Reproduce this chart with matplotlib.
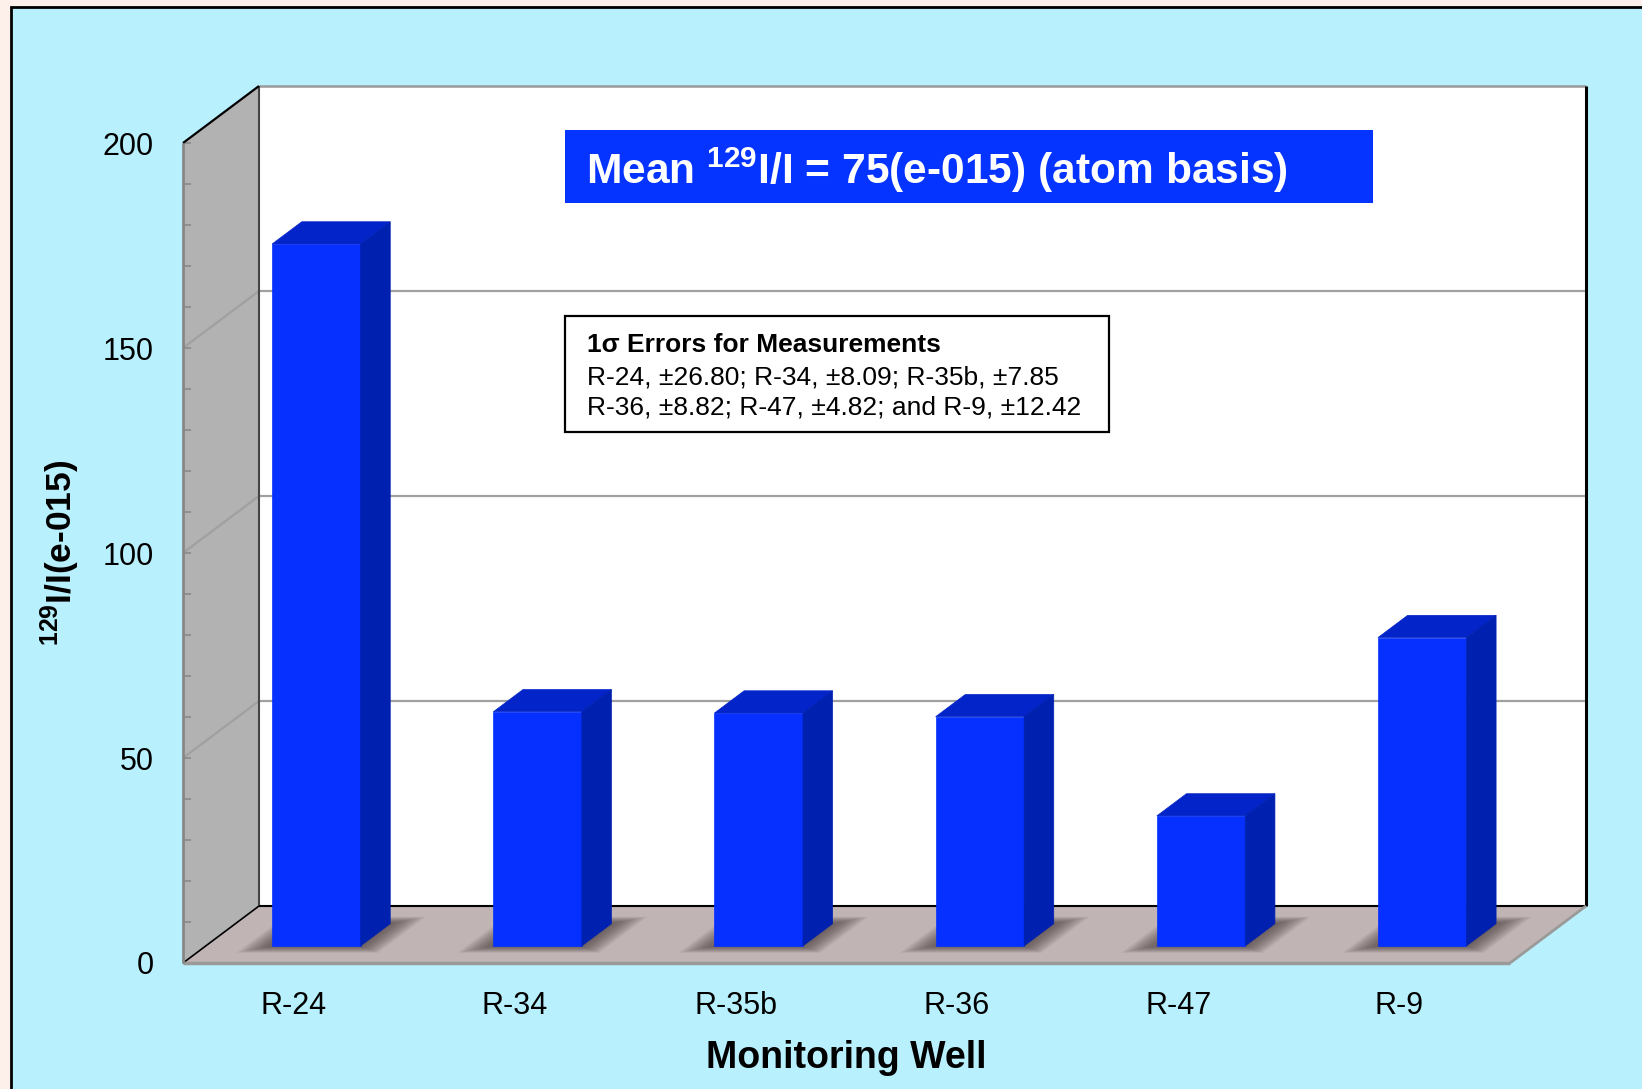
import numpy as np
import matplotlib
matplotlib.use("Agg")
import matplotlib.pyplot as plt
from matplotlib.patches import Polygon, Rectangle
from matplotlib.ticker import MultipleLocator

plt.rcParams["font.family"] = ["Liberation Sans", "DejaVu Sans"]
plt.rcParams["mathtext.fontset"] = "custom"
plt.rcParams["mathtext.rm"] = "Liberation Sans"
plt.rcParams["mathtext.bf"] = "Liberation Sans:bold"
plt.rcParams["mathtext.it"] = "Liberation Sans:italic"

# 129I/I ratios (e-015) per monitoring well, with 1-sigma errors
wells = ["R-24", "R-34", "R-35b", "R-36", "R-47", "R-9"]
ratios = [171.2, 57.1, 56.8, 55.9, 31.7, 75.2]
errors = ["26.80", "8.09", "7.85", "8.82", "4.82", "12.42"]
y_ticks = [0, 50, 100, 150, 200]

W, H = 1642, 1089
DX, DY = 0.3436, 13.9        # oblique offset of the full depth (slots, value units)
BAR_D0, BAR_D1 = 0.30, 0.69  # bar depth range
BAR_W = 0.40
YMAX = 200

FRONT = "#0530FF"
TOP = "#0324C8"
SIDE = "#0020B0"


def fig_xy(x, y):
    return x / W, 1 - y / H


def proj(x, v, d):
    return (x + d * DX, v + d * DY)


def poly(ax, pts, fc, z, ec="none", lw=0.0, alpha=1.0):
    ax.add_patch(Polygon(pts, closed=True, facecolor=fc, edgecolor=ec, lw=lw,
                         alpha=alpha, zorder=z, clip_on=False))


def seg(ax, pts, color, lw, z):
    xs, ys = zip(*pts)
    ax.plot(xs, ys, color=color, lw=lw, zorder=z, clip_on=False,
            solid_capstyle="butt")


fig = plt.figure(figsize=(W / 100, H / 100), dpi=100)
fig.patch.set_facecolor("#FDF0EB")
x0, y0 = fig_xy(11, 7)
fig.patches.append(Rectangle((x0, -0.1), 1.2, y0 + 0.1, transform=fig.transFigure,
                             facecolor="#B8F1FD", edgecolor="black", lw=2, zorder=-5))

l, b = fig_xy(183, 963)
ax = fig.add_axes([l, b, 1327 / W, 820 / H])
ax.set_xlim(0, len(wells))
ax.set_ylim(0, YMAX)
ax.patch.set_visible(False)
for s in ax.spines.values():
    s.set_visible(False)

n = len(wells)

# back wall
poly(ax, [proj(0, 0, 1), proj(n, 0, 1), proj(n, YMAX, 1), proj(0, YMAX, 1)], "white", 1)
seg(ax, [proj(0, YMAX, 1), proj(n, YMAX, 1)], "#9A9A9A", 1.8, 1.5)
seg(ax, [proj(n, 0, 1), proj(n, YMAX, 1)], "black", 2.2, 1.5)
seg(ax, [proj(0, 0, 1), proj(0, YMAX, 1)], "#444444", 1.5, 1.5)

# left wall
poly(ax, [proj(0, 0, 0), proj(0, 0, 1), proj(0, YMAX, 1), proj(0, YMAX, 0)], "#B2B2B2", 1)
seg(ax, [proj(0, YMAX, 0), proj(0, YMAX, 1)], "black", 1.6, 1.6)

# floor
poly(ax, [proj(0, 0, 0), proj(n, 0, 0), proj(n, 0, 1), proj(0, 0, 1)], "#C0B4B4", 1)
seg(ax, [proj(0, 0, 1), proj(n, 0, 1)], "black", 1.5, 1.6)
seg(ax, [proj(0, 0, 0), proj(0, 0, 1)], "black", 1.2, 1.6)
seg(ax, [proj(0, 0, 0), proj(n, 0, 0)], "#9A9A9A", 2.5, 1.6)
seg(ax, [proj(n, 0, 0), proj(n, 0, 1)], "#9A9A9A", 2.0, 1.6)
seg(ax, [proj(0, 0, 0), proj(0, YMAX, 0)], "#888888", 2.0, 1.6)

# gridlines: along the left wall, then across the back wall
for v in y_ticks[1:-1]:
    seg(ax, [proj(0, v, 0), proj(0, v, 1), proj(n, v, 1)], "#A0A0A0", 1.6, 1.4)

# soft shadows under the bars
for i in range(n):
    xa, xb = i + 0.5 - BAR_W / 2, i + 0.5 + BAR_W / 2
    for k in range(14):
        e = 0.12 * (1 - k / 14)
        ed = 0.12 * (1 - k / 14)
        pts = [proj(xa - e, 0, BAR_D0 - ed), proj(xb + e, 0, BAR_D0 - ed),
               proj(xb + e, 0, BAR_D1 + ed), proj(xa - e, 0, BAR_D1 + ed)]
        poly(ax, pts, "#4A3A3A", 2, alpha=0.07)

# bars
for i, v in enumerate(ratios):
    xa, xb = i + 0.5 - BAR_W / 2, i + 0.5 + BAR_W / 2
    poly(ax, [proj(xa, 0, BAR_D0), proj(xb, 0, BAR_D0), proj(xb, v, BAR_D0),
              proj(xa, v, BAR_D0)], FRONT, 3, ec=FRONT, lw=0.5)
    poly(ax, [proj(xa, v, BAR_D0), proj(xb, v, BAR_D0), proj(xb, v, BAR_D1),
              proj(xa, v, BAR_D1)], TOP, 3, ec=TOP, lw=0.5)
    poly(ax, [proj(xb, 0, BAR_D0), proj(xb, 0, BAR_D1), proj(xb, v, BAR_D1),
              proj(xb, v, BAR_D0)], SIDE, 3, ec=SIDE, lw=0.5)

# axes ticks and labels
ax.set_yticks(y_ticks)
ax.yaxis.set_minor_locator(MultipleLocator(10))
ax.tick_params(axis="y", which="both", direction="in", color="#8A8A8A",
               length=6, width=1.2, labelsize=22, pad=21)
ax.set_xticks(np.arange(n) + 0.5, labels=wells)
ax.tick_params(axis="x", length=0, labelsize=22, pad=20)

ax.set_xlabel("Monitoring Well", fontsize=27, fontweight="bold", va="center")
ax.xaxis.set_label_coords(0.5, (963 - 1058) / 820)
ax.set_ylabel(r"$^{\mathbf{129}}$I/I(e-015)", fontsize=25.5, fontweight="bold",
              va="center")
ax.yaxis.set_label_coords((60 - 183) / 1327, 0.5)

# mean banner
bx, by = fig_xy(565, 203)
fig.patches.append(Rectangle((bx, by), 808 / W, 73 / H, transform=fig.transFigure,
                             facecolor="#0533FF", edgecolor="none", zorder=5))
mean_val = np.mean(ratios)
tx, ty = fig_xy(586, 184)
fig.text(tx, ty, r"Mean $^{\mathbf{129}}$I/I = %d(e-015) (atom basis)" % round(mean_val),
         color="white", fontsize=30.6, fontweight="bold", va="baseline", zorder=6)

# error note box
ex, ey = fig_xy(565, 432)
fig.patches.append(Rectangle((ex, ey), 544 / W, 116 / H, transform=fig.transFigure,
                             facecolor="white", edgecolor="black", lw=1.6, zorder=5))
pairs = [f"{w}, \u00b1{e}" for w, e in zip(wells, errors)]
line1 = "; ".join(pairs[:3])
line2 = "; ".join(pairs[3:5]) + "; and " + pairs[5]
tx, ty = fig_xy(587, 352)
fig.text(tx, ty, "1\u03c3 Errors for Measurements", fontsize=19, fontweight="bold",
         va="baseline", zorder=6)
tx, ty = fig_xy(587, 384)
fig.text(tx, ty, line1, fontsize=19, va="baseline", zorder=6)
tx, ty = fig_xy(587, 415)
fig.text(tx, ty, line2, fontsize=19, va="baseline", zorder=6)

fig.savefig("out.png", dpi=100, facecolor=fig.get_facecolor())
